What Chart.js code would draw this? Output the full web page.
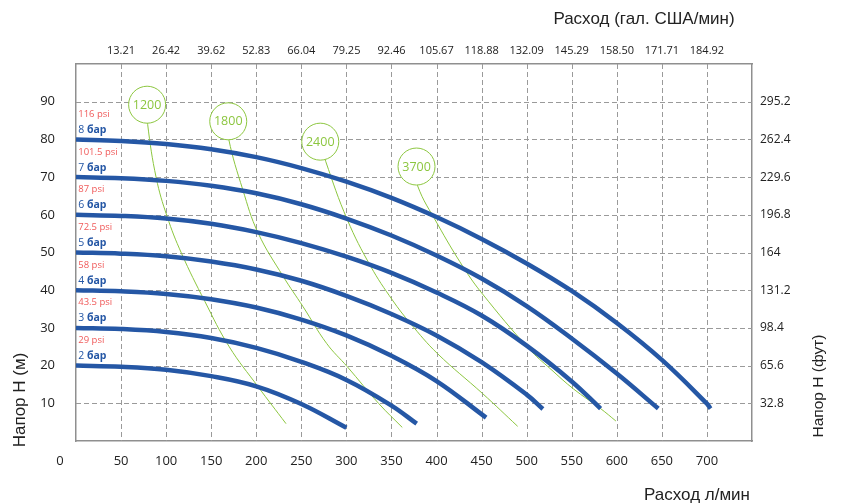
<!DOCTYPE html>
<html>
<head>
<meta charset="utf-8">
<style>
  html, body { margin: 0; padding: 0; background: #fff; }
  #wrap { width: 843px; height: 504px; }
</style>
</head>
<body>
<div id="wrap"><canvas id="pumpChart" width="843" height="504"></canvas></div>
<script src="https://cdn.jsdelivr.net/npm/chart.js@4.4.1/dist/chart.umd.min.js"></script>
<script>
// pressure curves (flow l/min -> head m)
const pressureBar = [2, 3, 4, 5, 6, 7, 8];
const pressurePsi = ['29', '43.5', '58', '72.5', '87', '101.5', '116'];

const flow2 = [0, 50, 100, 150, 200, 250, 300];
const head2 = [20, 19.7, 18.9, 17.2, 14.5, 9.8, 3.5];
const flow3 = [0, 50, 100, 150, 200, 250, 300, 350, 378];
const head3 = [30, 29.7, 28.9, 27.3, 24.7, 21.0, 16.2, 9.4, 4.6];
const flow4 = [0, 50, 100, 150, 200, 250, 300, 350, 400, 455];
const head4 = [40, 39.7, 39.0, 37.6, 35.4, 32.2, 28.0, 22.6, 15.9, 6.2];
const flow5 = [0, 50, 100, 150, 200, 250, 300, 350, 400, 450, 500, 518];
const head5 = [50, 49.7, 49.0, 47.6, 45.5, 42.5, 38.5, 33.7, 28.0, 20.9, 12.3, 8.5];
const flow6 = [0, 50, 100, 150, 200, 250, 300, 350, 400, 450, 500, 550, 582];
const head6 = [60, 59.7, 59.0, 57.6, 55.4, 52.5, 48.9, 44.6, 39.4, 33.3, 25.3, 15.8, 8.6];
const flow7 = [0, 50, 100, 150, 200, 250, 300, 350, 400, 450, 500, 550, 600, 646];
const head7 = [70, 69.7, 69.0, 67.7, 65.7, 62.8, 59.0, 54.5, 49.2, 43.1, 35.8, 27.2, 17.9, 8.6];
const flow8 = [0, 50, 100, 150, 200, 250, 300, 350, 400, 450, 500, 550, 600, 650, 700, 704];
const head8 = [80, 79.6, 78.8, 77.4, 75.3, 72.4, 68.8, 64.5, 59.4, 53.6, 47.1, 39.8, 31.3, 21.5, 9.9, 8.6];

// air consumption curves
const airLabels = ['1200', '1800', '2400', '3700'];
const airCircleX = [78.9, 168.9, 271, 377.8];
const airCircleY = [89.2, 84.8, 79.4, 72.8];
const air1200Q = [78.9, 79.5, 89, 101, 117, 143, 170, 202, 233];
const air1200H = [89.2, 84, 69.8, 59.6, 49.8, 37, 25, 14.4, 4.6];
const air1800Q = [168.9, 169.5, 185, 202, 230, 252, 278, 301, 336, 362];
const air1800H = [84.8, 80, 66.7, 55.2, 43.6, 35.6, 25.9, 19.7, 9.9, 3.6];
const air2400Q = [271, 277, 301, 327, 351, 371, 401, 451, 490];
const air2400H = [79.4, 74.2, 58.7, 46.3, 37.4, 31.2, 23.2, 12.6, 3.9];
const air3700Q = [377.8, 379, 401, 430, 451, 502, 527, 552, 582, 599];
const air3700H = [72.8, 67.7, 57.6, 46.0, 39.0, 24.6, 19.0, 13.8, 8.6, 5.3];

// tick labels
const galTicks = ['13.21', '26.42', '39.62', '52.83', '66.04', '79.25', '92.46', '105.67', '118.88', '132.09', '145.29', '158.50', '171.71', '184.92'];
const ftTicks = ['32.8', '65.6', '98.4', '131.2', '164', '196.8', '229.6', '262.4', '295.2'];

const BLUE = '#2557a5';
const GREEN = '#8cc63f';
const RED = '#f05a5a';
const GRID = '#9a9a9a';
const FONT = '"Open Sans", "Noto Sans", sans-serif';
const TITLE_FONT = '"Liberation Sans", Arial, sans-serif';

const pts = (xs, ys) => xs.map((v, i) => ({ x: v, y: ys[i] }));

const pressureCurves = [
  pts(flow2, head2), pts(flow3, head3), pts(flow4, head4), pts(flow5, head5),
  pts(flow6, head6), pts(flow7, head7), pts(flow8, head8)
];
const airCurves = [
  pts(air1200Q, air1200H), pts(air1800Q, air1800H), pts(air2400Q, air2400H), pts(air3700Q, air3700H)
];

const datasets = [{
  label: 'air',
  data: pts(airCircleX, airCircleY),
  showLine: false,
  pointRadius: 18.5,
  pointHoverRadius: 18.5,
  pointBackgroundColor: '#fff',
  pointBorderColor: GREEN,
  pointBorderWidth: 1,
  order: 0
}];
pressureCurves.forEach((d, i) => datasets.push({
  label: pressureBar[i] + ' бар',
  data: d,
  borderColor: BLUE,
  borderWidth: 4.5,
  pointRadius: 0,
  tension: 0.4,
  order: 1
}));
airCurves.forEach((d, i) => datasets.push({
  label: airLabels[i],
  data: d,
  borderColor: GREEN,
  borderWidth: 1,
  pointRadius: 0,
  tension: 0.4,
  order: 2
}));

const overlay = {
  id: 'overlay',
  beforeDatasetsDraw(chart) {
    // dashed grid from the scale ticks
    const { ctx, chartArea: a } = chart;
    const x = chart.scales.x, y = chart.scales.y;
    ctx.save();
    ctx.strokeStyle = GRID;
    ctx.lineWidth = 1;
    ctx.setLineDash([5, 3]);
    x.ticks.forEach(t => {
      if (t.value <= x.min || t.value >= x.max) return;
      const px = Math.round(x.getPixelForValue(t.value)) + 0.5;
      ctx.beginPath(); ctx.moveTo(px, a.top); ctx.lineTo(px, a.bottom); ctx.stroke();
    });
    y.ticks.forEach(t => {
      if (t.value <= y.min || t.value >= y.max) return;
      const py = Math.round(y.getPixelForValue(t.value)) + 0.5;
      ctx.beginPath(); ctx.moveTo(a.left, py); ctx.lineTo(a.right, py); ctx.stroke();
    });
    ctx.restore();
  },
  afterDatasetsDraw(chart) {
    const { ctx } = chart;
    const x = chart.scales.x, y = chart.scales.y;
    ctx.save();
    ctx.textBaseline = 'middle';
    ctx.textAlign = 'left';
    pressureBar.forEach((bar, i) => {
      const start = pressureCurves[i][0].y;
      const px = x.getPixelForValue(2.5);
      ctx.font = '9.5px ' + FONT;
      ctx.fillStyle = RED;
      ctx.fillText(pressurePsi[i] + ' psi', px, y.getPixelForValue(start + 6.7));
      const by = y.getPixelForValue(start + 2.5);
      ctx.font = '10.5px ' + FONT;
      ctx.fillStyle = BLUE;
      const num = bar + ' ';
      ctx.fillText(num, px, by);
      const w = ctx.measureText(num).width;
      ctx.font = 'bold 10.5px ' + FONT;
      ctx.fillText('бар', px + w, by);
    });
    // text inside the air circles
    const meta = chart.getDatasetMeta(0);
    ctx.textAlign = 'center';
    ctx.font = '12.5px ' + FONT;
    ctx.fillStyle = GREEN;
    meta.data.forEach((el, i) => ctx.fillText(airLabels[i], el.x, el.y + 0.5));
    ctx.restore();
  },
  afterDraw(chart) {
    const { ctx } = chart;
    const x = chart.scales.x;
    ctx.save();
    ctx.fillStyle = '#222';
    ctx.textBaseline = 'middle';
    ctx.textAlign = 'center';
    ctx.font = '13px ' + FONT;
    ctx.fillText('0', x.getPixelForValue(0) - 16, 461);
    ctx.font = '17px ' + TITLE_FONT;
    ctx.fillText('Расход (гал. США/мин)', 644, 19);
    ctx.fillText('Расход л/мин', 697, 495);
    ctx.translate(20, 400);
    ctx.rotate(-Math.PI / 2);
    ctx.fillText('Напор H (м)', 0, 0);
    ctx.restore();
    ctx.save();
    ctx.fillStyle = '#222';
    ctx.textBaseline = 'middle';
    ctx.textAlign = 'center';
    ctx.font = '15.5px ' + TITLE_FONT;
    ctx.translate(819, 386);
    ctx.rotate(-Math.PI / 2);
    ctx.fillText('Напор H (фут)', 0, 0);
    ctx.restore();
  }
};

const frame = { display: true, color: '#8f8f8f', width: 1.5 };

new Chart(document.getElementById('pumpChart'), {
  type: 'line',
  data: { datasets },
  options: {
    responsive: false,
    animation: false,
    devicePixelRatio: 1,
    layout: { padding: 0 },
    plugins: { legend: { display: false }, tooltip: { enabled: false } },
    scales: {
      x: {
        type: 'linear', position: 'bottom', min: 0, max: 750,
        afterFit: s => { s.height = 63; },
        grid: { display: false, drawTicks: false },
        border: frame,
        ticks: {
          stepSize: 50, padding: 12, color: '#222', font: { size: 13, family: FONT },
          maxRotation: 0, autoSkip: false,
          callback: v => (v === 0 || v === 750) ? '' : v
        }
      },
      x2: {
        type: 'linear', position: 'top', min: 0, max: 750,
        afterFit: s => { s.height = 64; },
        grid: { display: false, drawTicks: false },
        border: frame,
        ticks: {
          stepSize: 50, padding: 7, color: '#222', font: { size: 11, family: FONT },
          maxRotation: 0, autoSkip: false,
          callback: v => galTicks[v / 50 - 1] || ''
        }
      },
      y: {
        type: 'linear', position: 'left', min: 0, max: 100,
        afterFit: s => { s.width = 76; },
        grid: { display: false, drawTicks: false },
        border: frame,
        ticks: {
          stepSize: 10, padding: 21, color: '#222', font: { size: 13, family: FONT },
          callback: v => (v === 0 || v === 100) ? '' : v
        }
      },
      y2: {
        type: 'linear', position: 'right', min: 0, max: 100,
        afterFit: s => { s.width = 91; },
        grid: { display: false, drawTicks: false },
        border: frame,
        ticks: {
          stepSize: 10, padding: 8, color: '#222', font: { size: 12, family: FONT },
          callback: v => ftTicks[v / 10 - 1] || ''
        }
      }
    }
  },
  plugins: [overlay]
});
</script>
</body>
</html>
